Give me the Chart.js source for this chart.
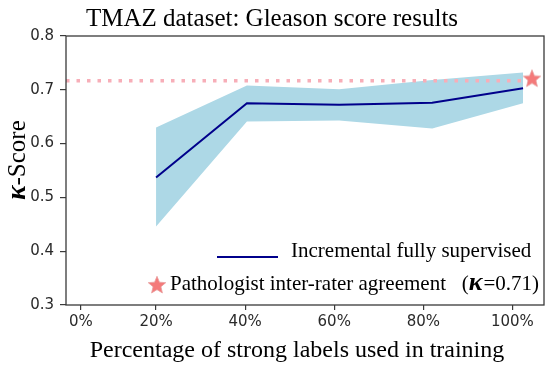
<!DOCTYPE html>
<html>
<head>
<meta charset="utf-8">
<script src="https://cdn.jsdelivr.net/npm/chart.js@4/dist/chart.umd.min.js"></script>
<style>
  body { margin: 0; background: #fff; }
  canvas { display: block; }
</style>
</head>
<body>
<canvas id="kChart" width="555" height="365"></canvas>
<script>
// values
const xPct = [20, 40.4, 61.1, 82, 102.4];
const meanK = [0.537, 0.675, 0.672, 0.676, 0.703];
const upperK = [0.630, 0.708, 0.701, 0.718, 0.732];
const lowerK = [0.446, 0.641, 0.643, 0.628, 0.675];
const agreeX = [-0.22, 102.4];
const agreeK = 0.717;
const starX = 104.4, starK = 0.721;
const xTickVals = [3.1, 20, 40, 60, 80, 100];
const xTickLabels = ['0%', '20%', '40%', '60%', '80%', '100%'];
const yTicks = [0.3, 0.4, 0.5, 0.6, 0.7, 0.8];

const serif = "'Liberation Serif', 'Times New Roman', serif";

function makeStar(size) {
    const c = document.createElement('canvas');
    c.width = size; c.height = size;
    const g = c.getContext('2d');
    const cx = size / 2, cy = size / 2 + 0.5, ro = size / 2 - 0.8, ri = ro * 0.45;
    g.beginPath();
    for (let i = 0; i < 10; i++) {
        const r = i % 2 ? ri : ro;
        const a = -Math.PI / 2 + i * Math.PI / 5;
        g.lineTo(cx + r * Math.cos(a), cy + r * Math.sin(a));
    }
    g.closePath();
    g.fillStyle = '#f47a7a';
    g.fill();
    g.strokeStyle = '#e8a0a0';
    g.lineWidth = 0.8;
    g.stroke();
    return c;
}
const starImg = makeStar(20);

const pts = ys => xPct.map((x, i) => ({x: x, y: ys[i]}));

const decor = {
    id: 'decor',
    afterDraw(chart) {
        const ctx = chart.ctx, a = chart.chartArea;
        ctx.save();
        // frame
        ctx.strokeStyle = '#3a3a3a';
        ctx.lineWidth = 1.3;
        ctx.strokeRect(a.left, a.top, a.right - a.left, a.bottom - a.top);

        // title
        ctx.fillStyle = '#000';
        ctx.textAlign = 'center';
        ctx.textBaseline = 'alphabetic';
        ctx.font = '25px ' + serif;
        ctx.fillText('TMAZ dataset: Gleason score results', 272, 26);

        // x title
        ctx.font = '24px ' + serif;
        ctx.fillText('Percentage of strong labels used in training', 297, 357);

        // y title
        ctx.save();
        ctx.translate(25, 160);
        ctx.rotate(-Math.PI / 2);
        ctx.textAlign = 'left';
        ctx.font = 'bold italic 27px ' + serif;
        const kw = ctx.measureText('\u03ba').width;
        ctx.font = '25px ' + serif;
        const sw = ctx.measureText('-Score').width;
        let x0 = -(kw + sw) / 2;
        ctx.font = 'bold italic 27px ' + serif;
        ctx.fillText('\u03ba', x0, 0);
        ctx.font = '25px ' + serif;
        ctx.fillText('-Score', x0 + kw, 0);
        ctx.restore();

        // legend
        ctx.textAlign = 'left';
        ctx.strokeStyle = '#00008b';
        ctx.lineWidth = 2;
        ctx.beginPath();
        ctx.moveTo(217, 257);
        ctx.lineTo(278, 257);
        ctx.stroke();
        ctx.font = '21px ' + serif;
        ctx.fillText('Incremental fully supervised', 291, 257);

        ctx.drawImage(starImg, 147, 275);
        let tx = 170;
        const part1 = 'Pathologist inter-rater agreement   (';
        ctx.fillText(part1, tx, 290);
        tx += ctx.measureText(part1).width;
        ctx.font = 'bold italic 26px ' + serif;
        ctx.fillText('\u03ba', tx, 290);
        tx += ctx.measureText('\u03ba').width + 1;
        ctx.font = '21px ' + serif;
        ctx.fillText('=0.71)', tx, 290);
        ctx.restore();
    }
};

new Chart(document.getElementById('kChart').getContext('2d'), {
    type: 'line',
    data: {
        datasets: [
            {
                label: 'upper',
                data: pts(upperK),
                borderWidth: 0,
                pointRadius: 0,
                backgroundColor: '#add8e6',
                fill: '+1',
                tension: 0,
                order: 10
            },
            {
                label: 'lower',
                data: pts(lowerK),
                borderWidth: 0,
                pointRadius: 0,
                fill: false,
                tension: 0,
                order: 10
            },
            {
                label: 'Incremental fully supervised',
                data: pts(meanK),
                borderColor: '#00008b',
                borderWidth: 2,
                pointRadius: 0,
                fill: false,
                tension: 0,
                order: 2
            },
            {
                label: 'agreement',
                data: agreeX.map(x => ({x: x, y: agreeK})),
                borderColor: '#f7aeb8',
                borderWidth: 3.5,
                borderDash: [3.5, 7],
                pointRadius: 0,
                fill: false,
                order: 5
            },
            {
                label: 'Pathologist inter-rater agreement',
                data: [{x: starX, y: starK}],
                showLine: false,
                pointStyle: starImg,
                pointRadius: 10,
                order: 0
            }
        ]
    },
    options: {
        responsive: false,
        animation: false,
        clip: false,
        layout: { padding: { top: 36, right: 6, left: 0, bottom: 0 } },
        plugins: {
            legend: { display: false },
            tooltip: { enabled: false }
        },
        scales: {
            x: {
                type: 'linear',
                min: -0.22,
                max: 107.1,
                afterFit: s => { s.height = 60; },
                afterBuildTicks: s => { s.ticks = xTickVals.map(v => ({value: v})); },
                grid: { drawOnChartArea: false, tickLength: 5, color: '#3a3a3a', lineWidth: 1.2 },
                border: { display: false },
                ticks: {
                    autoSkip: false,
                    maxRotation: 0,
                    padding: 3,
                    color: '#2a2a2a',
                    font: { family: "'DejaVu Sans'", size: 15 },
                    callback: (v, i) => xTickLabels[i]
                }
            },
            y: {
                min: 0.3,
                max: 0.8,
                afterFit: s => { s.width = 66; },
                afterBuildTicks: s => { s.ticks = yTicks.map(v => ({value: v})); },
                grid: { drawOnChartArea: false, tickLength: 6, color: '#3a3a3a', lineWidth: 1.2 },
                border: { display: false },
                ticks: {
                    padding: 6,
                    color: '#2a2a2a',
                    font: { family: "'DejaVu Sans'", size: 15 },
                    callback: v => v.toFixed(1)
                }
            }
        }
    },
    plugins: [decor]
});
</script>
</body>
</html>
